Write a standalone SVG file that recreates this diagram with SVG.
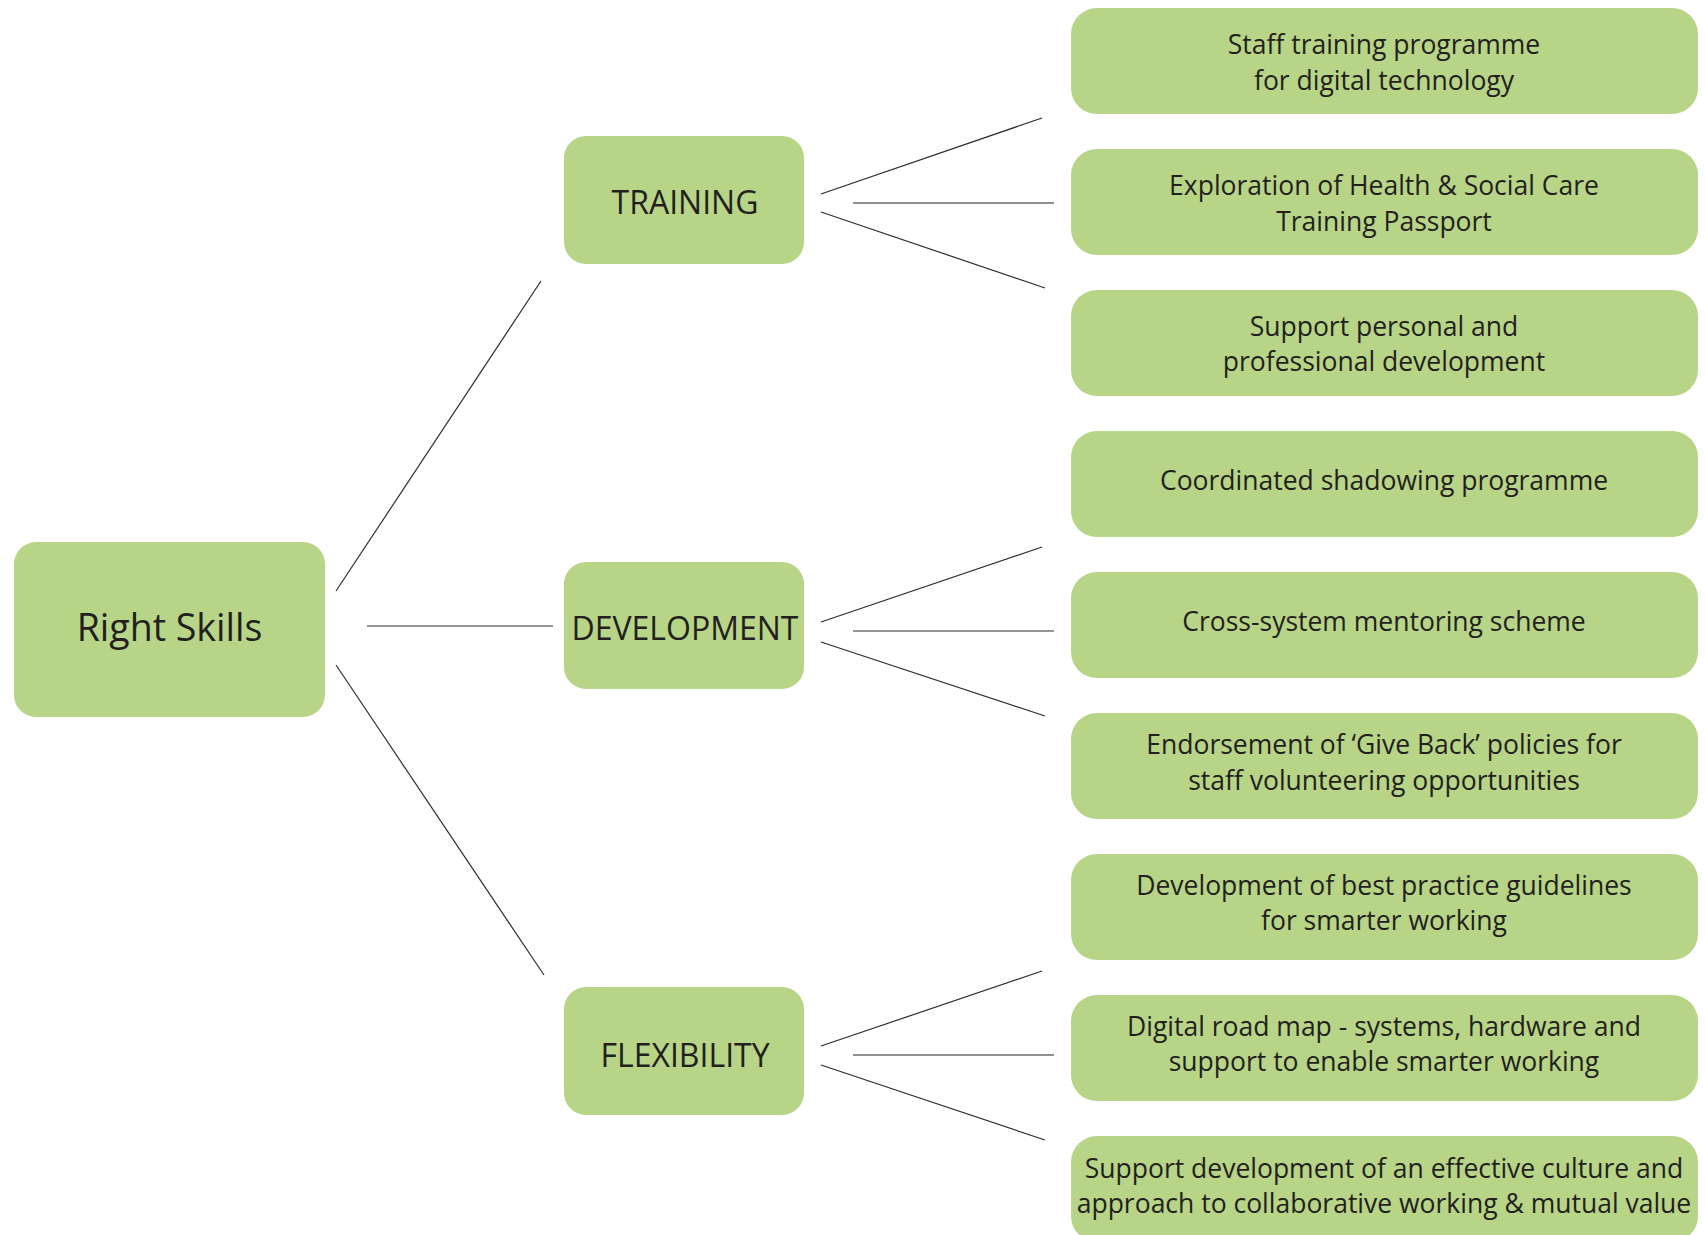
<svg xmlns="http://www.w3.org/2000/svg" width="1706" height="1235" viewBox="0 0 1706 1235">
<style>
.box{fill:#b8d487;}
.t{font-family:"Open Sans","Noto Sans",sans-serif;fill:#231f20;text-anchor:middle;}
.leaf{font-size:26.5px;}
.mid{font-size:32px;}
.root{font-size:37.5px;}
.ln{stroke:#2e2e2e;stroke-width:1.2;fill:none;}
.hz{stroke:#6b6b6b;stroke-width:1.6;fill:none;}
</style>
<rect width="1706" height="1235" fill="#ffffff"/>
<g id="connectors">
<line class="ln" x1="336" y1="591" x2="541" y2="281"/>
<line class="ln" x1="367" y1="626" x2="553" y2="626"/>
<line class="ln" x1="336" y1="665" x2="544" y2="975"/>
<line class="ln" x1="821" y1="194" x2="1042" y2="118"/>
<line class="hz" x1="853" y1="203" x2="1054" y2="203"/>
<line class="ln" x1="821" y1="212" x2="1045" y2="288"/>
<line class="ln" x1="821" y1="622" x2="1042" y2="547"/>
<line class="ln" x1="853" y1="631" x2="1054" y2="631"/>
<line class="ln" x1="821" y1="642" x2="1045" y2="716"/>
<line class="ln" x1="821" y1="1046" x2="1042" y2="971"/>
<line class="hz" x1="853" y1="1055" x2="1054" y2="1055"/>
<line class="ln" x1="821" y1="1065" x2="1045" y2="1140"/>
</g>
<g id="root">
<rect class="box" x="14" y="542" width="311" height="175" rx="22"/>
<text class="t root" x="169.5" y="641">Right Skills</text>
</g>
<g id="training">
<rect class="box" x="564" y="136" width="240" height="128" rx="22"/>
<text class="t mid" x="685" y="214">TRAINING</text>
</g>
<g id="development">
<rect class="box" x="564" y="562" width="240" height="127" rx="22"/>
<text class="t mid" x="685" y="640">DEVELOPMENT</text>
</g>
<g id="flexibility">
<rect class="box" x="564" y="987" width="240" height="128" rx="22"/>
<text class="t mid" x="685" y="1067">FLEXIBILITY</text>
</g>
<g id="leaf1">
<rect class="box" x="1071" y="8" width="627" height="106" rx="26"/>
<text class="t leaf" x="1384" y="54">Staff training programme</text>
<text class="t leaf" x="1384" y="90">for digital technology</text>
</g>
<g id="leaf2">
<rect class="box" x="1071" y="149" width="627" height="106" rx="26"/>
<text class="t leaf" x="1384" y="195">Exploration of Health &amp; Social Care</text>
<text class="t leaf" x="1384" y="231">Training Passport</text>
</g>
<g id="leaf3">
<rect class="box" x="1071" y="290" width="627" height="106" rx="26"/>
<text class="t leaf" x="1384" y="336">Support personal and</text>
<text class="t leaf" x="1384" y="371">professional development</text>
</g>
<g id="leaf4">
<rect class="box" x="1071" y="431" width="627" height="106" rx="26"/>
<text class="t leaf" x="1384" y="490">Coordinated shadowing programme</text>
</g>
<g id="leaf5">
<rect class="box" x="1071" y="572" width="627" height="106" rx="26"/>
<text class="t leaf" x="1384" y="631">Cross-system mentoring scheme</text>
</g>
<g id="leaf6">
<rect class="box" x="1071" y="713" width="627" height="106" rx="26"/>
<text class="t leaf" x="1384" y="754">Endorsement of ‘Give Back’ policies for</text>
<text class="t leaf" x="1384" y="790">staff volunteering opportunities</text>
</g>
<g id="leaf7">
<rect class="box" x="1071" y="854" width="627" height="106" rx="26"/>
<text class="t leaf" x="1384" y="895">Development of best practice guidelines</text>
<text class="t leaf" x="1384" y="930">for smarter working</text>
</g>
<g id="leaf8">
<rect class="box" x="1071" y="995" width="627" height="106" rx="26"/>
<text class="t leaf" x="1384" y="1036">Digital road map - systems, hardware and</text>
<text class="t leaf" x="1384" y="1071">support to enable smarter working</text>
</g>
<g id="leaf9">
<rect class="box" x="1071" y="1136" width="627" height="106" rx="26"/>
<text class="t leaf" x="1384" y="1178">Support development of an effective culture and</text>
<text class="t leaf" x="1384" y="1213">approach to collaborative working &amp; mutual value</text>
</g>
</svg>
